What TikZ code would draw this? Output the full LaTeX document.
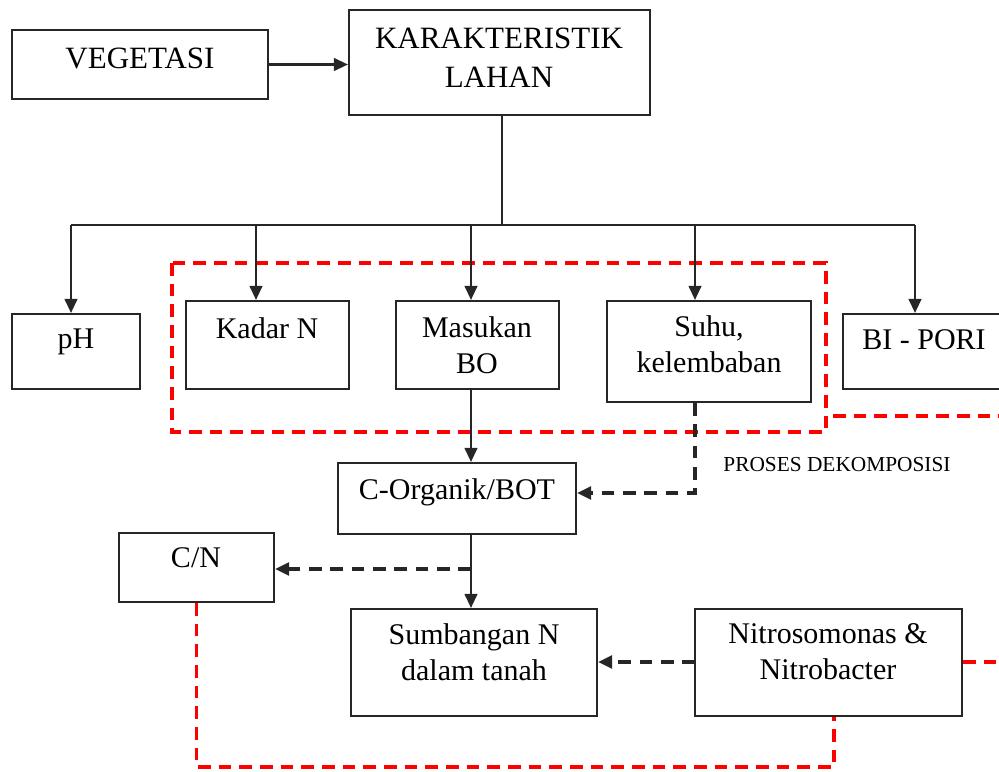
\documentclass[tikz,border=0pt]{standalone}
\usepackage{fontspec}
\setmainfont{Liberation Serif}
\usetikzlibrary{arrows.meta,fit}
\begin{document}
\begin{tikzpicture}[x=0.75pt,y=-0.75pt,
  box/.style={draw=black!85, line width=1.6pt, inner sep=0pt},
  txt/.style={font=\fontsize{22.5}{27}\selectfont, align=center, inner sep=0pt, anchor=north},
  bigtxt/.style={font=\fontsize{23.25}{29}\selectfont, align=center, inner sep=0pt, anchor=north},
  lbl/.style={font=\fontsize{16}{19}\selectfont, inner sep=0pt, anchor=north},
  line/.style={draw=black!85, line width=1.6pt},
  conn/.style={line, -{Triangle[length=10.5pt,width=9.5pt]}},
  dconn/.style={draw=black!85, line width=2.6pt, dash pattern=on 9.5pt off 6.5pt, -{Triangle[length=10.5pt,width=9.5pt]}},
  reddash/.style={draw=red, line width=2.6pt, dash pattern=on 9.5pt off 6pt},
]
\clip (0,0) rectangle (999,771);

% boxes
\node[box, fit={(12,30) (268,99)}] (veg) {};
\node[box, fit={(349,10) (650,115)}] (kl) {};
\node[box, fit={(12,314) (140,389)}] (ph) {};
\node[box, fit={(186,301) (349,389)}] (kadar) {};
\node[box, fit={(396,301) (559,389)}] (masuk) {};
\node[box, fit={(607,301) (811,402)}] (suhu) {};
\node[box, fit={(843,314) (1015,389)}] (bi) {};
\node[box, fit={(338,463) (576,534)}] (corg) {};
\node[box, fit={(119,533) (274,602)}] (cn) {};
\node[box, fit={(351,609) (597,716)}] (sumb) {};
\node[box, fit={(695,609) (962,716)}] (nitro) {};

% texts
\node[bigtxt] (vegt) at (140,48) {VEGETASI};
\node[bigtxt] (klt) at (499,28) {KARAKTERISTIK\\LAHAN};
\node[txt] (pht) at (76,329) {pH};
\node[txt] (kadart) at (267,317) {Kadar N};
\node[txt] (masukt) at (477,316) {Masukan\\BO};
\node[txt] (suhut) at (709,315) {Suhu,\\kelembaban};
\node[txt] (bit) at (924,329) {BI - PORI};
\node[txt] (corgt) at (457,478) {C-Organik/BOT};
\node[txt] (cnt) at (196,547) {C/N};
\node[txt] (sumbt) at (474,623) {Sumbangan N\\dalam tanah};
\node[txt] (nitrot) at (828,623) {Nitrosomonas \&\\Nitrobacter};
\node[lbl] (proses) at (837,457) {PROSES DEKOMPOSISI};

% coordinates
\coordinate (b0) at (502,225);
\coordinate (b1) at (71,225);
\coordinate (b2) at (256,225);
\coordinate (b3) at (471,225);
\coordinate (b4) at (695,225);
\coordinate (b5) at (915,225);
\coordinate (j) at (471,569);
\coordinate (k) at (695,493);
\coordinate (n) at (695,662);
\coordinate (r) at (834,767);

% red dashed grouping
\draw[reddash] (172,263) rectangle (826,432);
\draw[reddash] (833,416) -- (1010,416);
\draw[reddash] (cn.south) |- (r) -- (r |- nitro.south);
\draw[reddash] (nitro.east |- n) -- (1010,662);

% connectors
\draw[conn] (veg) -- (veg -| kl.west);
\draw[line] (kl.south -| b0) -- (b0);
\draw[line] (b1) -- (b5);
\draw[conn] (b1) -- (b1 |- ph.north);
\draw[conn] (b2) -- (b2 |- kadar.north);
\draw[conn] (b3) -- (b3 |- masuk.north);
\draw[conn] (b4) -- (b4 |- suhu.north);
\draw[conn] (b5) -- (b5 |- bi.north);
\draw[conn] (b3 |- masuk.south) -- (b3 |- corg.north);
\draw[conn] (b3 |- corg.south) -- (b3 |- sumb.north);
\draw[dconn] (j) -- (j -| cn.east);
\draw[dconn] (k |- suhu.south) -- (k) -- (k -| corg.east);
\draw[dconn] (n) -- (n -| sumb.east);
\end{tikzpicture}
\end{document}
